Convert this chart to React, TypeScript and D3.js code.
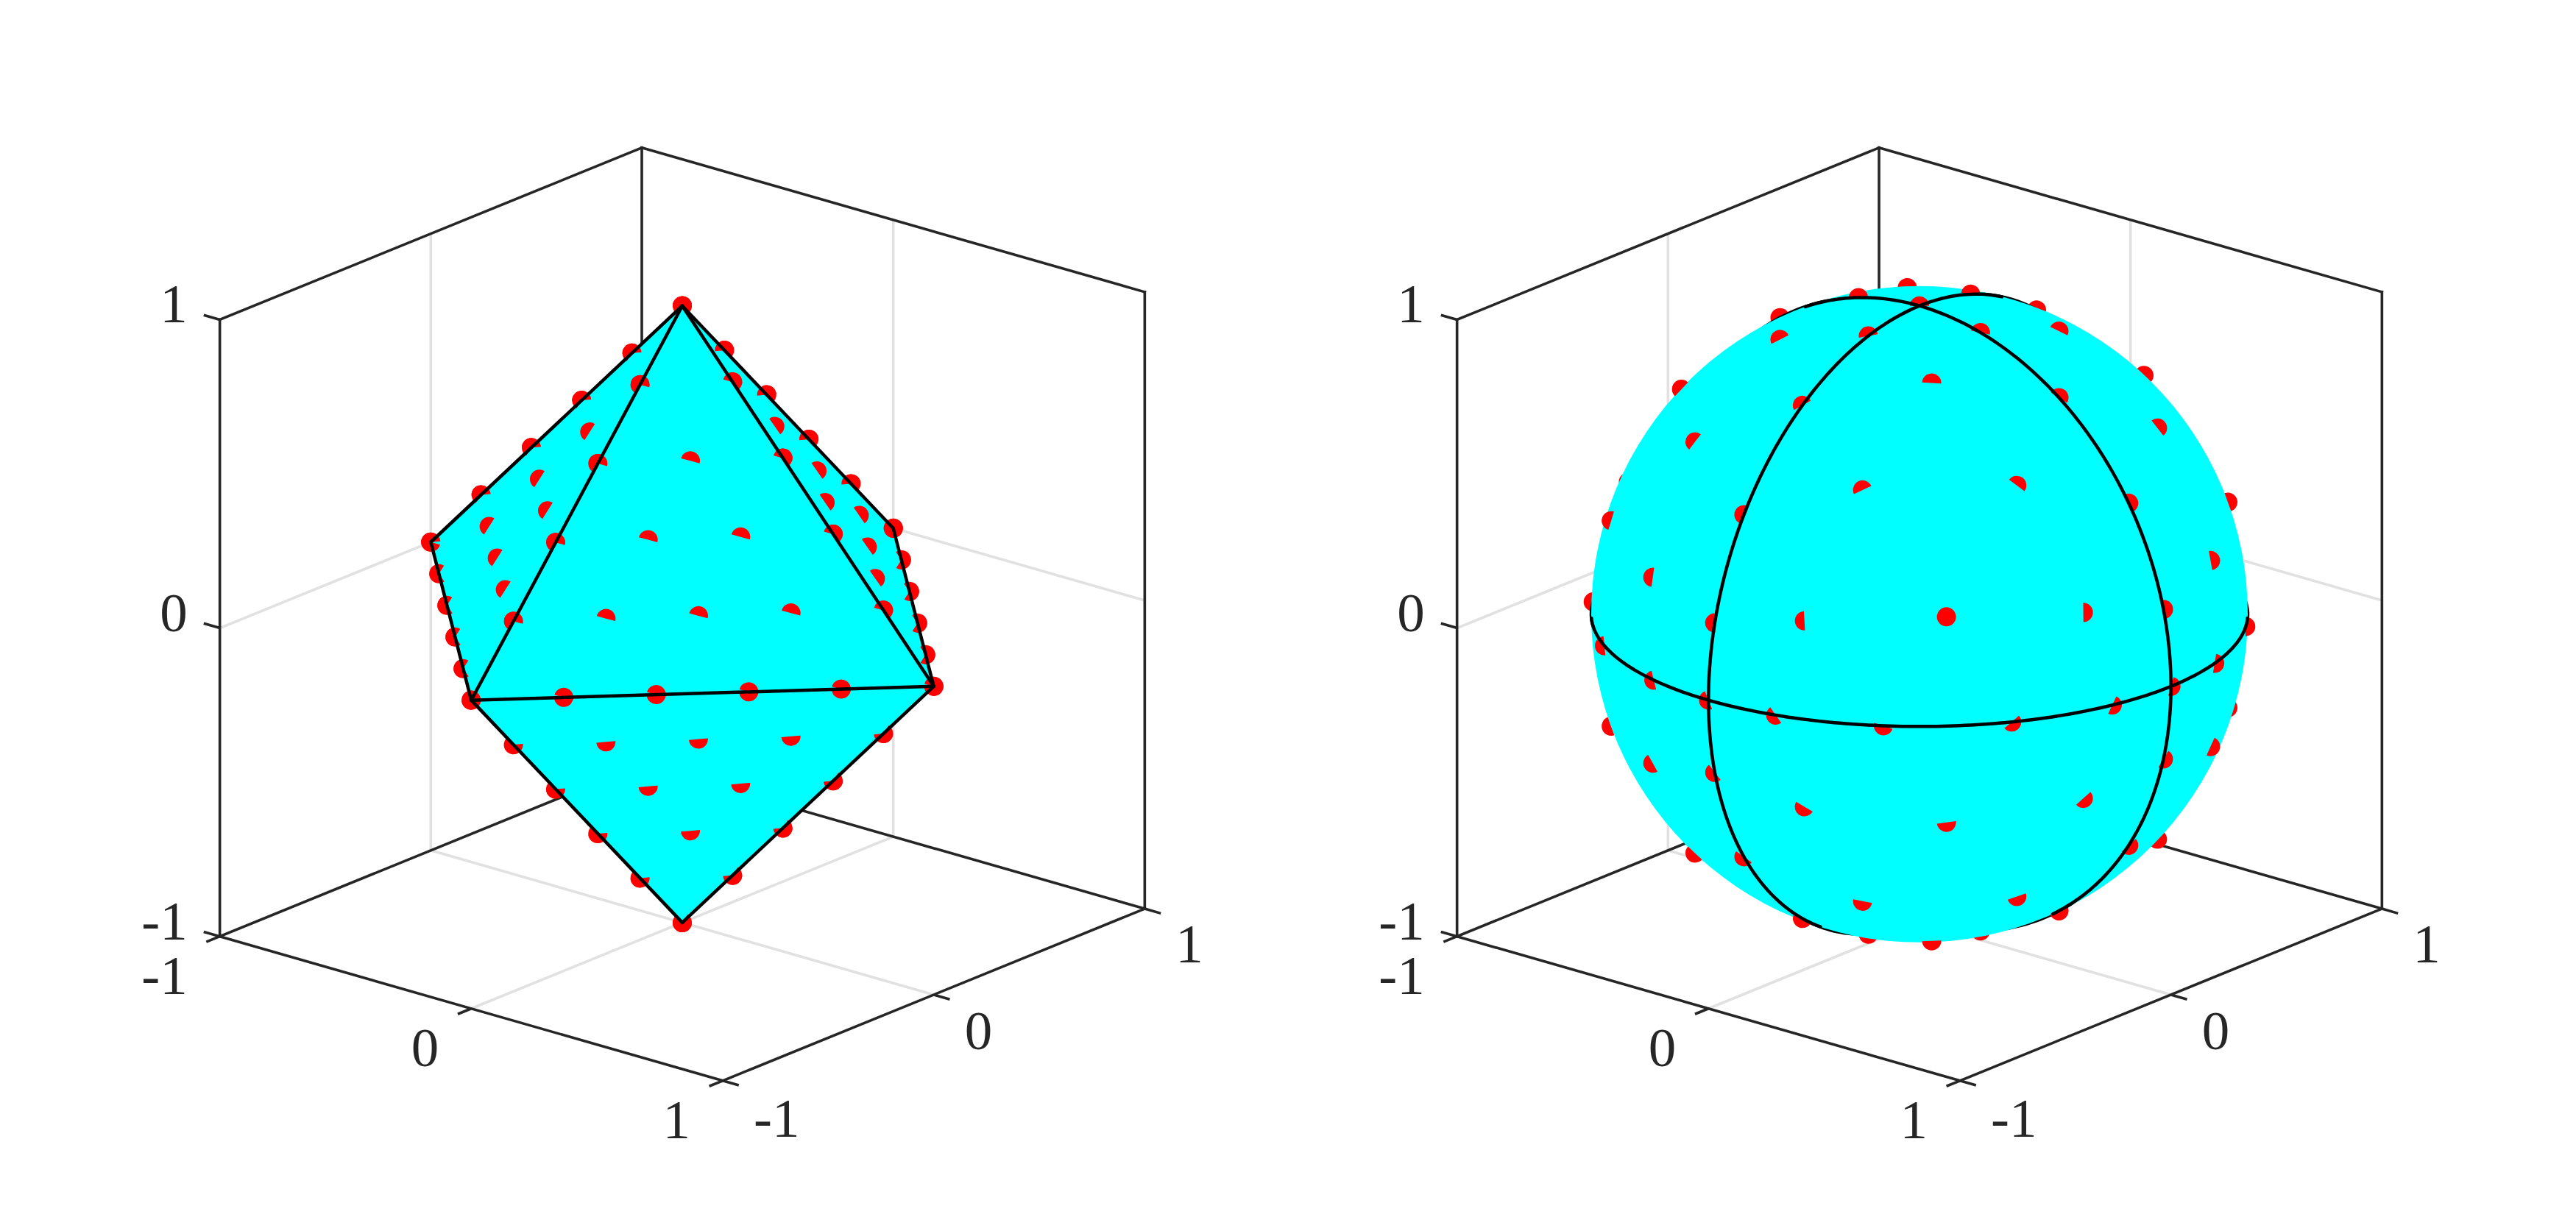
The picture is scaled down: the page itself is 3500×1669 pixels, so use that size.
import React from "react";
import * as d3 from "d3";

// ---- data ----
const tickValues = [-1, 0, 1];
const tickLabels = ["-1", "0", "1"];
// Marked mesh points: rows of constant z, each row a ring of [x, y]
const ring0 = [[0, 0]];
const ring1 = [[0.2, 0], [0, 0.2], [-0.2, 0], [0, -0.2]];
const ring2 = [[0.4, 0], [0.2, 0.2], [0, 0.4], [-0.2, 0.2], [-0.4, 0], [-0.2, -0.2], [0, -0.4], [0.2, -0.2]];
const ring3 = [[0.6, 0], [0.4, 0.2], [0.2, 0.4], [0, 0.6], [-0.2, 0.4], [-0.4, 0.2], [-0.6, 0], [-0.4, -0.2], [-0.2, -0.4], [0, -0.6], [0.2, -0.4], [0.4, -0.2]];
const ring4 = [[0.8, 0], [0.6, 0.2], [0.4, 0.4], [0.2, 0.6], [0, 0.8], [-0.2, 0.6], [-0.4, 0.4], [-0.6, 0.2], [-0.8, 0], [-0.6, -0.2], [-0.4, -0.4], [-0.2, -0.6], [0, -0.8], [0.2, -0.6], [0.4, -0.4], [0.6, -0.2]];
const ring5 = [[1, 0], [0.8, 0.2], [0.6, 0.4], [0.4, 0.6], [0.2, 0.8], [0, 1], [-0.2, 0.8], [-0.4, 0.6], [-0.6, 0.4], [-0.8, 0.2], [-1, 0], [-0.8, -0.2], [-0.6, -0.4], [-0.4, -0.6], [-0.2, -0.8], [0, -1], [0.2, -0.8], [0.4, -0.6], [0.6, -0.4], [0.8, -0.2]];
const zLevels = [1, 0.8, 0.6, 0.4, 0.2, 0, -0.2, -0.4, -0.6, -0.8, -1];
const zRings = [ring0, ring1, ring2, ring3, ring4, ring5, ring4, ring3, ring2, ring1, ring0];
// Octahedron
const octaVertices: Record<string, number[]> = {
  xp: [1, 0, 0], xn: [-1, 0, 0], yp: [0, 1, 0], yn: [0, -1, 0], zp: [0, 0, 1], zn: [0, 0, -1],
};
const octaEdges = [
  ["zp", "xn"], ["xn", "yn"], ["yn", "zn"], ["zn", "xp"], ["xp", "yp"], ["yp", "zp"],
  ["yn", "zp"], ["yn", "xp"], ["xp", "zp"],
];
// Great circles drawn on the sphere: the two axes spanning each circle
const circleBases = [
  [[1, 0, 0], [0, 1, 0]],
  [[0, 1, 0], [0, 0, 1]],
  [[1, 0, 0], [0, 0, 1]],
];

// ---- style / geometry ----
const W = 3500, H = 1669;
const AZ = (40 * Math.PI) / 180, EL = (20 * Math.PI) / 180;
const S = 446;
const CY = 834.8;
const LEFT_CX = 927, RIGHT_CX = 2608;
const CYAN = "#00ffff", RED = "#ff0000", DARK = "#262626", GRID = "#e1e1e1";
const AXIS_W = 3.6, EDGE_W = 4.5, MARKER_R = 13, TICK = 0.064, FONT = 75;
const FONT_FAMILY = "'Liberation Serif', serif";

const camera = [Math.sin(AZ) * Math.cos(EL), -Math.cos(AZ) * Math.cos(EL), Math.sin(EL)];
const dot = (a: number[], b: number[]) => a[0] * b[0] + a[1] * b[1] + a[2] * b[2];
const unit = (p: number[]) => {
  const n = Math.hypot(p[0], p[1], p[2]);
  return p.map((v) => v / n);
};

const coord = d3.scaleLinear().domain([-1, 1]).range([-S, S]);

function projector(cx: number) {
  return (p: number[]): [number, number] => {
    const [x, y, z] = p.map((v) => coord(v));
    return [
      cx + x * Math.cos(AZ) + y * Math.sin(AZ),
      CY + x * Math.sin(AZ) * Math.sin(EL) - y * Math.cos(AZ) * Math.sin(EL) - z * Math.cos(EL),
    ];
  };
}
// direction on the screen of a 3-D vector
const screenDir = (n: number[]): [number, number] => [
  n[0] * Math.cos(AZ) + n[1] * Math.sin(AZ),
  n[0] * Math.sin(AZ) * Math.sin(EL) - n[1] * Math.cos(AZ) * Math.sin(EL) - n[2] * Math.cos(EL),
];

const arc = d3.arc();
const halfDisc = (dir: [number, number]) => {
  const theta = Math.atan2(dir[0], -dir[1]);
  return arc({ innerRadius: 0, outerRadius: MARKER_R, startAngle: theta - Math.PI / 2, endAngle: theta + Math.PI / 2 }) as string;
};
const fullDisc = () =>
  arc({ innerRadius: 0, outerRadius: MARKER_R, startAngle: 0, endAngle: 2 * Math.PI }) as string;

const meshPoints: number[][] = zLevels.flatMap((z, i) => zRings[i].map(([x, y]) => [x, y, z]));

const line = d3.line<[number, number]>().x((d) => d[0]).y((d) => d[1]);

function AxesBox({ cx }: { cx: number }) {
  const P = projector(cx);
  const seg = (a: number[], b: number[]) => line([P(a), P(b)]) as string;
  const grid: [number[], number[]][] = [];
  grid.push([[-1, -1, 0], [-1, 1, 0]], [[-1, 1, 0], [1, 1, 0]]);
  grid.push([[-1, 0, -1], [-1, 0, 1]], [[-1, 0, -1], [1, 0, -1]]);
  grid.push([[0, 1, -1], [0, 1, 1]], [[0, -1, -1], [0, 1, -1]]);
  const box: [number[], number[]][] = [
    [[-1, -1, -1], [-1, -1, 1]],
    [[-1, -1, 1], [-1, 1, 1]],
    [[-1, 1, 1], [1, 1, 1]],
    [[-1, 1, 1], [-1, 1, -1]],
    [[1, 1, 1], [1, 1, -1]],
    [[-1, -1, -1], [-1, 1, -1]],
    [[-1, 1, -1], [1, 1, -1]],
    [[-1, -1, -1], [1, -1, -1]],
    [[1, -1, -1], [1, 1, -1]],
  ];
  const ticks: [number[], number[]][] = tickValues.flatMap((v) => [
    [[v, -1, -1], [v, -1 - TICK, -1]],
    [[1, v, -1], [1 + TICK, v, -1]],
    [[-1, -1, v], [-1 - TICK, -1, v]],
  ] as [number[], number[]][]);
  return (
    <g fill="none" strokeLinecap="square">
      {grid.map(([a, b], i) => (
        <path key={"g" + i} d={seg(a, b)} stroke={GRID} strokeWidth={AXIS_W} strokeLinecap="butt" />
      ))}
      {box.map(([a, b], i) => (
        <path key={"b" + i} d={seg(a, b)} stroke={DARK} strokeWidth={AXIS_W} />
      ))}
      {ticks.map(([a, b], i) => (
        <path key={"t" + i} d={seg(a, b)} stroke={DARK} strokeWidth={AXIS_W} strokeLinecap="butt" />
      ))}
    </g>
  );
}

function AxisLabels({ cx }: { cx: number }) {
  const P = projector(cx);
  const style = { fontFamily: FONT_FAMILY, fontSize: FONT, fill: DARK };
  return (
    <g style={style as any}>
      {tickValues.map((v, i) => {
        const pz = P([-1, -1, v]);
        const px = P([v, -1, -1]);
        const py = P([1, v, -1]);
        return (
          <g key={v}>
            <text x={pz[0] - 44} y={pz[1] + 4} textAnchor="end">{tickLabels[i]}</text>
            <text x={px[0] - 44} y={px[1] + 78.5} textAnchor="end">{tickLabels[i]}</text>
            <text x={py[0] + 42} y={py[1] + 76 - 1.5 * i} textAnchor="start">{tickLabels[i]}</text>
          </g>
        );
      })}
    </g>
  );
}

function signOptions(v: number) {
  return v > 0 ? [1] : v < 0 ? [-1] : [1, -1];
}

function OctahedronPanel() {
  const cx = LEFT_CX;
  const P = projector(cx);
  const withFaces = meshPoints.map((p) => {
    const faces: number[][] = [];
    for (const a of signOptions(p[0])) for (const b of signOptions(p[1])) for (const c of signOptions(p[2])) faces.push([a, b, c]);
    return { p, faces, front: faces.some((f) => dot(f, camera) > 0) };
  });
  const marker = (d: { p: number[]; faces: number[][] }, i: number) => {
    const [x, y] = P(d.p);
    return (
      <g key={i} transform={`translate(${x},${y})`} fill={RED}>
        {d.faces.map((f, j) => (
          <path key={j} d={halfDisc(screenDir(f))} />
        ))}
      </g>
    );
  };
  const outline = d3.polygonHull(Object.values(octaVertices).map(P)) as [number, number][];
  return (
    <g>
      <AxesBox cx={cx} />
      {withFaces.filter((d) => !d.front).map(marker)}
      <path d={line(outline) + "Z"} fill={CYAN} />
      {withFaces.filter((d) => d.front).map(marker)}
      {octaEdges.map(([a, b], i) => (
        <path key={i} d={line([P(octaVertices[a]), P(octaVertices[b])]) as string} fill="none" stroke="#000" strokeWidth={EDGE_W} strokeLinecap="round" />
      ))}
      <AxisLabels cx={cx} />
    </g>
  );
}

function SpherePanel() {
  const cx = RIGHT_CX;
  const P = projector(cx);
  const pts = meshPoints.map((p) => unit(p));
  const marker = (p: number[], i: number) => {
    const [x, y] = P(p);
    const dir = screenDir(p);
    const r0 = Math.hypot(dir[0], dir[1]);
    return (
      <path key={i} transform={`translate(${x},${y})`} fill={RED} d={r0 < 0.15 ? fullDisc() : halfDisc(dir)} />
    );
  };
  const angles = d3.range(0, 361, 1).map((t) => (t * Math.PI) / 180);
  const circles = circleBases.map(([u, v]) =>
    angles.map((t) => u.map((c, k) => c * Math.cos(t) + v[k] * Math.sin(t)))
  );
  const curve = (minDot: number) =>
    d3
      .line<number[]>()
      .defined((p) => dot(p, camera) > minDot)
      .x((p) => P(p)[0])
      .y((p) => P(p)[1]);
  return (
    <g>
      <AxesBox cx={cx} />
      {pts.filter((p) => dot(p, camera) <= 0).map(marker)}
      {/* the parts behind the rim only peek out past the sphere's edge */}
      {circles.map((c, i) => (
        <path key={i} d={curve(-2)(c) as string} fill="none" stroke="#000" strokeWidth={EDGE_W} />
      ))}
      <circle cx={cx} cy={CY} r={S} fill={CYAN} />
      {pts.filter((p) => dot(p, camera) > 0).map(marker)}
      {circles.map((c, i) => (
        <path key={i} d={curve(0.03)(c) as string} fill="none" stroke="#000" strokeWidth={EDGE_W} strokeLinejoin="round" strokeLinecap="round" />
      ))}
      <AxisLabels cx={cx} />
    </g>
  );
}

export default function App() {
  return (
    <svg
      width={W}
      height={H}
      viewBox={`0 0 ${W} ${H}`}
      style={{ position: "absolute", left: 0, top: 0, display: "block", background: "#fff" }}
    >
      <OctahedronPanel />
      <SpherePanel />
    </svg>
  );
}
